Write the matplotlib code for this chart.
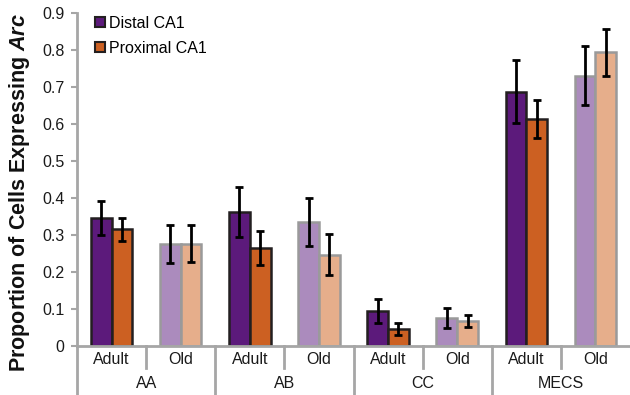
import matplotlib
matplotlib.use("Agg")
import matplotlib.pyplot as plt
from matplotlib.patches import Patch
from matplotlib.lines import Line2D

groups = ['AA', 'AB', 'CC', 'MECS']
ages = ['Adult', 'Old']
distal = [0.346, 0.275, 0.362, 0.335, 0.095, 0.076, 0.687, 0.731]
distal_err = [0.047, 0.052, 0.068, 0.065, 0.033, 0.027, 0.085, 0.080]
proximal = [0.315, 0.276, 0.265, 0.247, 0.046, 0.068, 0.614, 0.794]
proximal_err = [0.030, 0.050, 0.047, 0.055, 0.015, 0.016, 0.052, 0.063]
yticks = [0, 0.1, 0.2, 0.3, 0.4, 0.5, 0.6, 0.7, 0.8, 0.9]
yticklabels = ['0', '0.1', '0.2', '0.3', '0.4', '0.5', '0.6', '0.7', '0.8', '0.9']

plt.rcParams['font.family'] = ['Liberation Sans', 'DejaVu Sans']
plt.rcParams['mathtext.fontset'] = 'custom'
plt.rcParams['mathtext.it'] = 'Liberation Sans:italic:bold'
plt.rcParams['mathtext.rm'] = 'Liberation Sans:bold'

W, H = 630, 395
fig = plt.figure(figsize=(W / 100, H / 100), dpi=100)
left, right, top, bottom = 77, 630, 13, 346
ax = fig.add_axes([left / W, 1 - bottom / H, (right - left) / W, (bottom - top) / H])

c_dist = ['#5c1a7b', '#ab8bbd']
c_prox = ['#cc6022', '#e6ae8b']
edge = ['#231f20', '#9a9a9a']
gray = '#a6a6a6'
tcol = '#1a1a1a'
fs = 11.5

bw = 0.3
n = len(groups) * len(ages)
for i in range(n):
    a = i % 2
    xc = i + 0.5
    ax.bar(xc - bw / 2, distal[i], width=bw, color=c_dist[a], edgecolor=edge[a], linewidth=1.8, zorder=2)
    ax.bar(xc + bw / 2, proximal[i], width=bw, color=c_prox[a], edgecolor=edge[a], linewidth=1.8, zorder=2)
    ax.errorbar(xc - bw / 2, distal[i], yerr=distal_err[i], fmt='none', ecolor='black',
                elinewidth=2, capsize=3, capthick=2, zorder=3)
    ax.errorbar(xc + bw / 2, proximal[i], yerr=proximal_err[i], fmt='none', ecolor='black',
                elinewidth=2, capsize=3, capthick=2, zorder=3)

ax.set_xlim(0, n)
ax.set_ylim(0, 0.9)
ax.set_yticks(yticks)
ax.set_yticklabels(yticklabels, fontsize=fs, color=tcol)
ax.tick_params(axis='y', direction='out', length=4, width=1.5, color=gray, pad=5)
ax.set_xticks([])
for s in ['top', 'right']:
    ax.spines[s].set_visible(False)
for s in ['left', 'bottom']:
    ax.spines[s].set_color(gray)
    ax.spines[s].set_linewidth(2)

# hierarchical x labels
px = lambda p: p / (bottom - top)  # pixels to axes fraction (vertical)
tr = ax.get_xaxis_transform()
for i in range(n):
    ax.text(i + 0.5, -px(13), ages[i % 2], transform=tr,
            ha='center', va='center', fontsize=fs, color=tcol)
for g in range(len(groups)):
    ax.text(2 * g + 1, -px(37), groups[g], transform=tr,
            ha='center', va='center', fontsize=fs, color=tcol)
for k in range(0, n):
    if k % 2 == 1:
        ax.add_line(Line2D([k, k], [0, -px(22)], transform=tr, color=gray, lw=2, clip_on=False))
    else:
        ax.add_line(Line2D([k, k], [0, -px(50)], transform=tr, color=gray, lw=2, clip_on=False))

handles = [Patch(facecolor=c_dist[0], edgecolor='#231f20', linewidth=1.5, label='Distal CA1'),
           Patch(facecolor=c_prox[0], edgecolor='#231f20', linewidth=1.5, label='Proximal CA1')]
ax.legend(handles=handles, loc='upper left', bbox_to_anchor=(0.021, 1.01), frameon=False,
          fontsize=fs, handlelength=0.6, handleheight=0.6, handletextpad=0.3,
          labelspacing=0.62, borderaxespad=0)

fig.text(20 / W, 1 - 193 / H, r'Proportion of Cells Expressing $\it{Arc}$', rotation=90,
         ha='center', va='center', fontsize=15.5, fontweight='bold', color='#111111')

fig.savefig('out.png', dpi=100)
